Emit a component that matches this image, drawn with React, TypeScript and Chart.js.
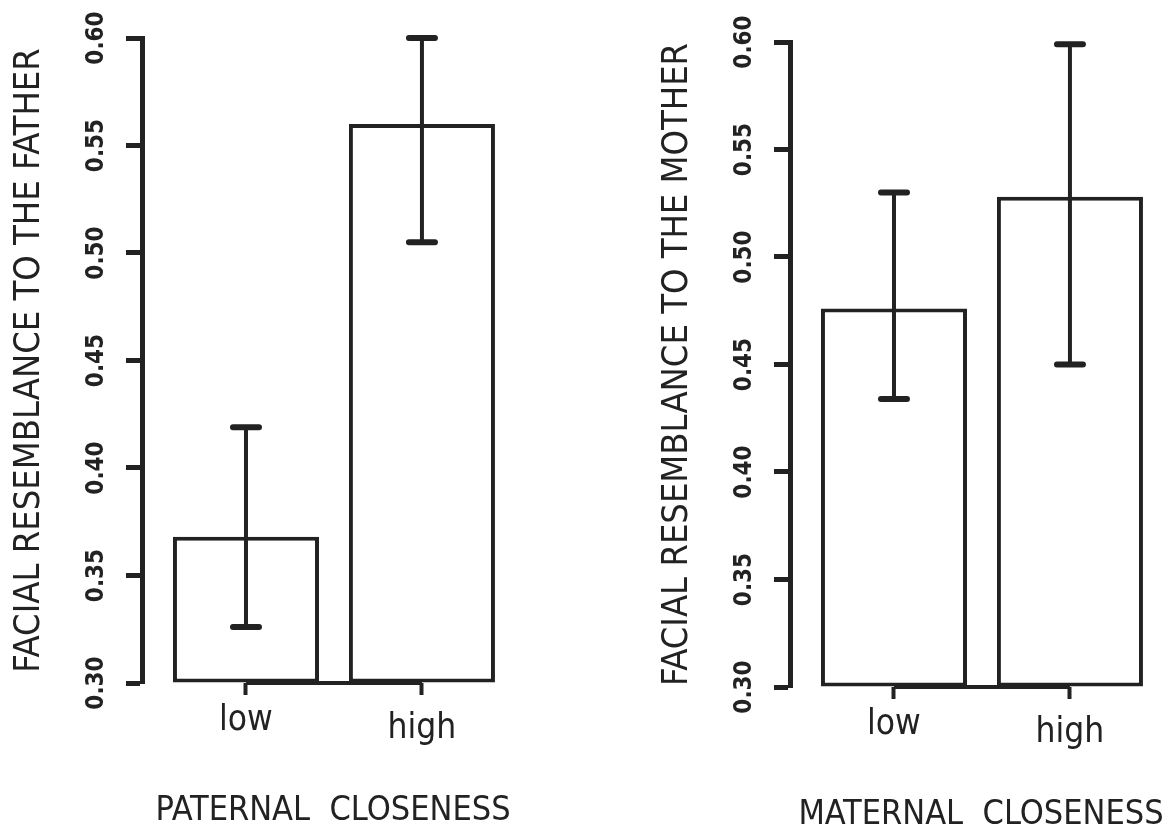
import React, { useEffect, useRef } from 'react';
import { Chart, registerables } from 'chart.js';

Chart.register(...registerables);

const INK = '#222222';
const FONT = "'Liberation Sans Narrow', 'DejaVu Sans Condensed', 'Roboto Condensed', sans-serif";

const categories = ['low', 'high'];
const yTicks = [0.3, 0.35, 0.4, 0.45, 0.5, 0.55, 0.6];

const fatherMeans = [0.368, 0.56];
const fatherLower = [0.326, 0.505];
const fatherUpper = [0.419, 0.6];

const motherMeans = [0.476, 0.528];
const motherLower = [0.434, 0.45];
const motherUpper = [0.53, 0.599];

const baseValue = 0.3;
const baselineValues = [0.3, 0.3];

const errorBars = {
  id: 'errorBars',
  afterDatasetsDraw(chart: any, _args: any, opts: any) {
    const meta = chart.getDatasetMeta(0);
    const y = chart.scales.y;
    const ctx = chart.ctx;
    ctx.save();
    ctx.strokeStyle = INK;
    ctx.lineCap = 'round';
    meta.data.forEach((bar: any, i: number) => {
      const x = bar.x;
      const yl = y.getPixelForValue(opts.lower[i]);
      const yu = y.getPixelForValue(opts.upper[i]);
      ctx.lineWidth = 4;
      ctx.beginPath();
      ctx.moveTo(x, yl);
      ctx.lineTo(x, yu);
      ctx.stroke();
      ctx.lineWidth = 6;
      ctx.beginPath();
      ctx.moveTo(x - 13, yu);
      ctx.lineTo(x + 13, yu);
      ctx.moveTo(x - 13, yl);
      ctx.lineTo(x + 13, yl);
      ctx.stroke();
    });
    ctx.restore();
  },
};

function makeConfig(means: number[], lower: number[], upper: number[], yTitle: string, xTitle: string): any {
  return {
    type: 'bar',
    data: {
      datasets: [
        {
          type: 'bar',
          order: 1,
          data: means.map((v, i) => ({ x: i, y: v })),
          base: baseValue,
          backgroundColor: '#ffffff',
          borderColor: INK,
          borderWidth: 4,
          borderSkipped: false,
          categoryPercentage: 1,
          barPercentage: 0.83,
        },
        {
          type: 'line',
          order: 3,
          clip: 8,
          data: baselineValues.map((v, i) => ({ x: i, y: v })),
          borderColor: INK,
          borderWidth: 4,
          pointRadius: 0,
          fill: false,
        },
      ],
    },
    options: {
      responsive: false,
      maintainAspectRatio: false,
      animation: false,
      layout: { padding: { top: 38, left: 0, right: 0, bottom: 0 } },
      plugins: {
        legend: { display: false },
        tooltip: { enabled: false },
        errorBars: { lower, upper },
      },
      scales: {
        x: {
          type: 'linear',
          offset: false,
          min: -0.591,
          max: 1.58,
          afterBuildTicks: (s: any) => {
            s.ticks = categories.map((_, i) => ({ value: i }));
          },
          afterFit: (s: any) => {
            s.height = 150;
          },
          ticks: {
            autoSkip: false,
            maxRotation: 0,
            minRotation: 0,
            padding: 8,
            color: INK,
            callback: (_v: any, i: number) => categories[i],
            font: (c: any) => ({ family: FONT, size: 35, lineHeight: c.index === 1 ? 1.5 : 1 }),
          },
          grid: {
            display: true,
            offset: false,
            drawOnChartArea: false,
            drawTicks: true,
            tickLength: 12,
            tickWidth: 4,
            tickColor: INK,
            color: INK,
          },
          border: { display: false },
          title: {
            display: true,
            text: xTitle,
            color: INK,
            font: { family: FONT, size: 34, lineHeight: 1 },
            padding: { top: 0, bottom: 5 },
          },
        },
        y: {
          type: 'linear',
          min: 0.3,
          max: 0.6,
          afterBuildTicks: (s: any) => {
            s.ticks = yTicks.map((v) => ({ value: v }));
          },
          afterFit: (s: any) => {
            s.width = 142;
          },
          ticks: {
            autoSkip: false,
            minRotation: 90,
            maxRotation: 90,
            crossAlign: 'center',
            padding: 3,
            color: INK,
            callback: (v: any) => Number(v).toFixed(2),
            font: { family: FONT, size: 24, weight: 'bold', lineHeight: 1 },
          },
          grid: {
            display: true,
            drawOnChartArea: false,
            drawTicks: true,
            tickLength: 16,
            tickWidth: 5,
            tickColor: INK,
            color: INK,
          },
          border: { display: true, width: 5, color: INK },
          title: {
            display: true,
            text: yTitle,
            color: INK,
            font: { family: FONT, size: 36, lineHeight: 1 },
            padding: { top: 12, bottom: 0 },
          },
        },
      },
    },
    plugins: [errorBars],
  };
}

function Panel(props: { means: number[]; lower: number[]; upper: number[]; yTitle: string; xTitle: string; left: number; top: number }) {
  const ref = useRef<HTMLCanvasElement | null>(null);
  useEffect(() => {
    if (!ref.current) return;
    const chart = new Chart(ref.current, makeConfig(props.means, props.lower, props.upper, props.yTitle, props.xTitle));
    return () => chart.destroy();
  }, []);
  return (
    <canvas
      ref={ref}
      width={524}
      height={833}
      style={{ position: 'absolute', left: props.left, top: props.top, width: 524, height: 833 }}
    />
  );
}

export default function App() {
  return (
    <div
      style={{
        position: 'fixed',
        left: 0,
        top: 0,
        width: 1172,
        height: 833,
        overflow: 'hidden',
        background: '#ffffff',
      }}
    >
      <Panel
        means={fatherMeans}
        lower={fatherLower}
        upper={fatherUpper}
        yTitle="FACIAL RESEMBLANCE TO THE FATHER"
        xTitle="PATERNAL  CLOSENESS"
        left={0}
        top={0}
      />
      <Panel
        means={motherMeans}
        lower={motherLower}
        upper={motherUpper}
        yTitle="FACIAL RESEMBLANCE TO THE MOTHER"
        xTitle="MATERNAL  CLOSENESS"
        left={648}
        top={4}
      />
    </div>
  );
}
